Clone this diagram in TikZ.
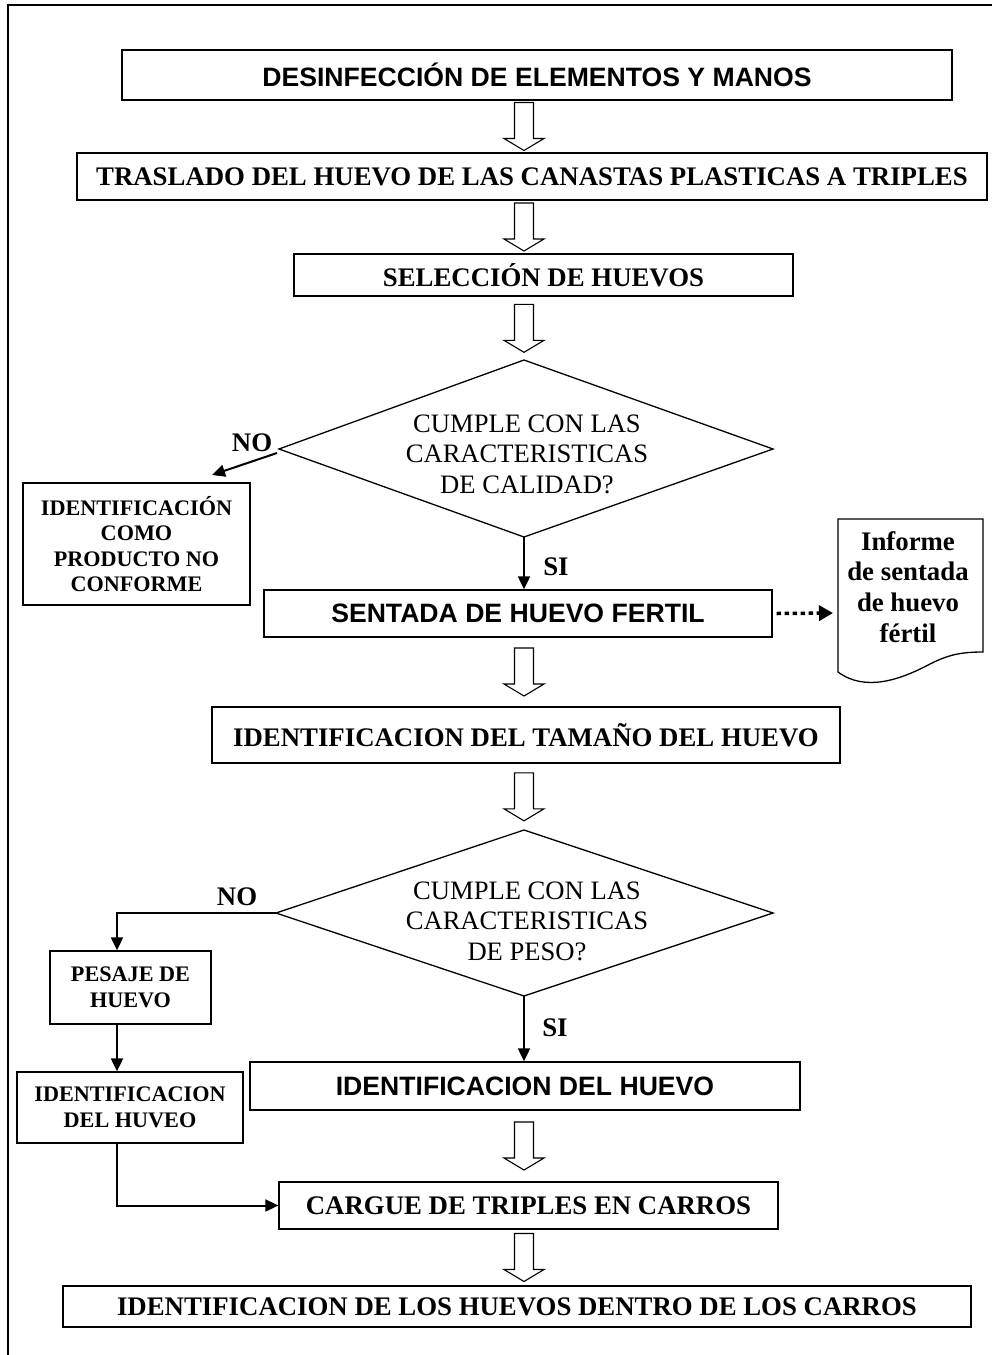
\documentclass[tikz,border=0pt]{standalone}
\usepackage{fontspec}
\setmainfont{Liberation Serif}
\newfontfamily\arialf{Liberation Sans}
\usetikzlibrary{arrows.meta,calc}
\begin{document}
\begin{tikzpicture}[x=1pt,y=-1pt,
  box/.style={draw,line width=1.3pt,inner sep=0pt,align=center,
    font=\fontsize{26.8}{30.8}\selectfont\bfseries},
  sbox/.style={box,font=\fontsize{22.2}{25.5}\selectfont\bfseries},
  abox/.style={box,font=\arialf\fontsize{26.6}{30.6}\selectfont\bfseries},
  dtext/.style={inner sep=0pt,align=center,font=\fontsize{26.6}{30.6}\selectfont},
  lbl/.style={inner sep=0pt,font=\fontsize{26.8}{30.8}\selectfont\bfseries},
  conn/.style={line width=2pt,-{Triangle[length=13pt,width=12pt]}},
  shape line/.style={line width=1.3pt},
  harrow/.pic={\draw[line width=1.1pt,fill=white]
     (-9.5,-24) -- (9.5,-24) -- (9.5,12) -- (20,12) -- (0,24) -- (-20,12) -- (-9.5,12) -- cycle;}
]
\useasboundingbox (0,0) rectangle (992,1355);
% frame
\draw[line width=1.4pt] (8,1356) -- (8,5) -- (993,5);
\coordinate (axis) at (524,0);

\node[abox,minimum width=830pt,minimum height=50pt] (A) at (537,75) {DESINFECCIÓN DE ELEMENTOS Y MANOS};
\node[box,minimum width=910pt,minimum height=47pt] (B) at (532,176.5) {TRASLADO DEL HUEVO DE LAS CANASTAS PLASTICAS A TRIPLES};
\node[box,minimum width=499pt,minimum height=42pt] (C) at (543.5,275) {SELECCIÓN DE HUEVOS};

% diamond 1
\coordinate (d1t) at (524,360);
\coordinate (d1l) at (279,449);
\coordinate (d1r) at (773,449);
\coordinate (d1b) at (524,537);
\draw[shape line] (d1t) -- (d1r) -- (d1b) -- (d1l) -- cycle;
\node[dtext] (d1) at (527,454) {CUMPLE CON LAS\\CARACTERISTICAS\\DE CALIDAD?};

\node[sbox,minimum width=227pt,minimum height=122pt] (D) at (136.5,544) {IDENTIFICACIÓN\\COMO\\PRODUCTO NO\\CONFORME};
\node[abox,minimum width=508pt,minimum height=47pt] (E) at (518,613.5) {SENTADA DE HUEVO FERTIL};

% document shape
\coordinate (docl) at (838,613);
\draw[shape line] (838,672) -- (838,519) -- (983,519) -- (983,652)
  .. controls (960,652) and (948,655) .. (930,664)
  .. controls (900,680) and (865,692) .. (838,672);
\node[lbl,align=center] (doc) at (908,587) {Informe\\de sentada\\de huevo\\fértil};

\node[box,minimum width=628pt,minimum height=56pt] (F) at (526,735) {IDENTIFICACION DEL TAMAÑO DEL HUEVO};

% diamond 2
\coordinate (d2t) at (524,830);
\coordinate (d2l) at (276,913);
\coordinate (d2r) at (773,913);
\coordinate (d2b) at (524,996);
\draw[shape line] (d2t) -- (d2r) -- (d2b) -- (d2l) -- cycle;
\node[dtext] (d2) at (527,921) {CUMPLE CON LAS\\CARACTERISTICAS\\DE PESO?};

\node[sbox,minimum width=161pt,minimum height=73pt] (G) at (130.5,987.5) {PESAJE DE\\HUEVO};
\node[sbox,minimum width=226pt,minimum height=71pt] (H) at (130,1107.5) {IDENTIFICACION\\DEL HUVEO};
\node[abox,minimum width=550pt,minimum height=48pt] (I) at (525,1086) {IDENTIFICACION DEL HUEVO};
\node[box,minimum width=499pt,minimum height=47pt] (J) at (528.5,1205.5) {CARGUE DE TRIPLES EN CARROS};
\node[box,minimum width=908pt,minimum height=41pt] (K) at (517,1306.5) {IDENTIFICACION DE LOS HUEVOS DENTRO DE LOS CARROS};

% hollow arrows
\pic at ($(A.south -| axis)!0.5!(B.north -| axis)$) {harrow};
\pic at ($(B.south -| axis)!0.5!(C.north -| axis)$) {harrow};
\pic at ($(C.south -| axis)!0.5!(d1t)$) {harrow};
\pic at ($(E.south -| axis)!0.5!(F.north -| axis)$) {harrow};
\pic at ($(F.south -| axis)!0.5!(d2t)$) {harrow};
\pic at ($(I.south -| axis)!0.5!(J.north -| axis)$) {harrow};
\pic at ($(J.south -| axis)!0.5!(K.north -| axis)$) {harrow};

% labels
\node[lbl] (no1) at (252,443) {NO};
\node[lbl] (si1) at (556,567) {SI};
\node[lbl] (no2) at (237,897) {NO};
\node[lbl] (si2) at (555,1028) {SI};

% connectors
\coordinate (no1end) at (212,475);
\draw[conn] ($(d1l)+(-2,4)$) -- (no1end);
\draw[conn] (d1b) -- (E.north -| d1b);
\draw[line width=3.5pt,dash pattern=on 4.5pt off 3.5pt,-{Triangle[length=14pt,width=15pt]}] ($(E.east)+(4,0)$) -- ($(docl)+(-5,0)$);
\coordinate (n2) at (117,913);
\draw[conn] (d2l) -- (n2) -- (G.north -| n2);
\draw[conn] (G.south -| n2) -- (H.north -| n2);
\draw[conn] (H.south -| n2) |- (J.west);
\draw[conn] (d2b) -- (I.north -| d2b);
\end{tikzpicture}
\end{document}
